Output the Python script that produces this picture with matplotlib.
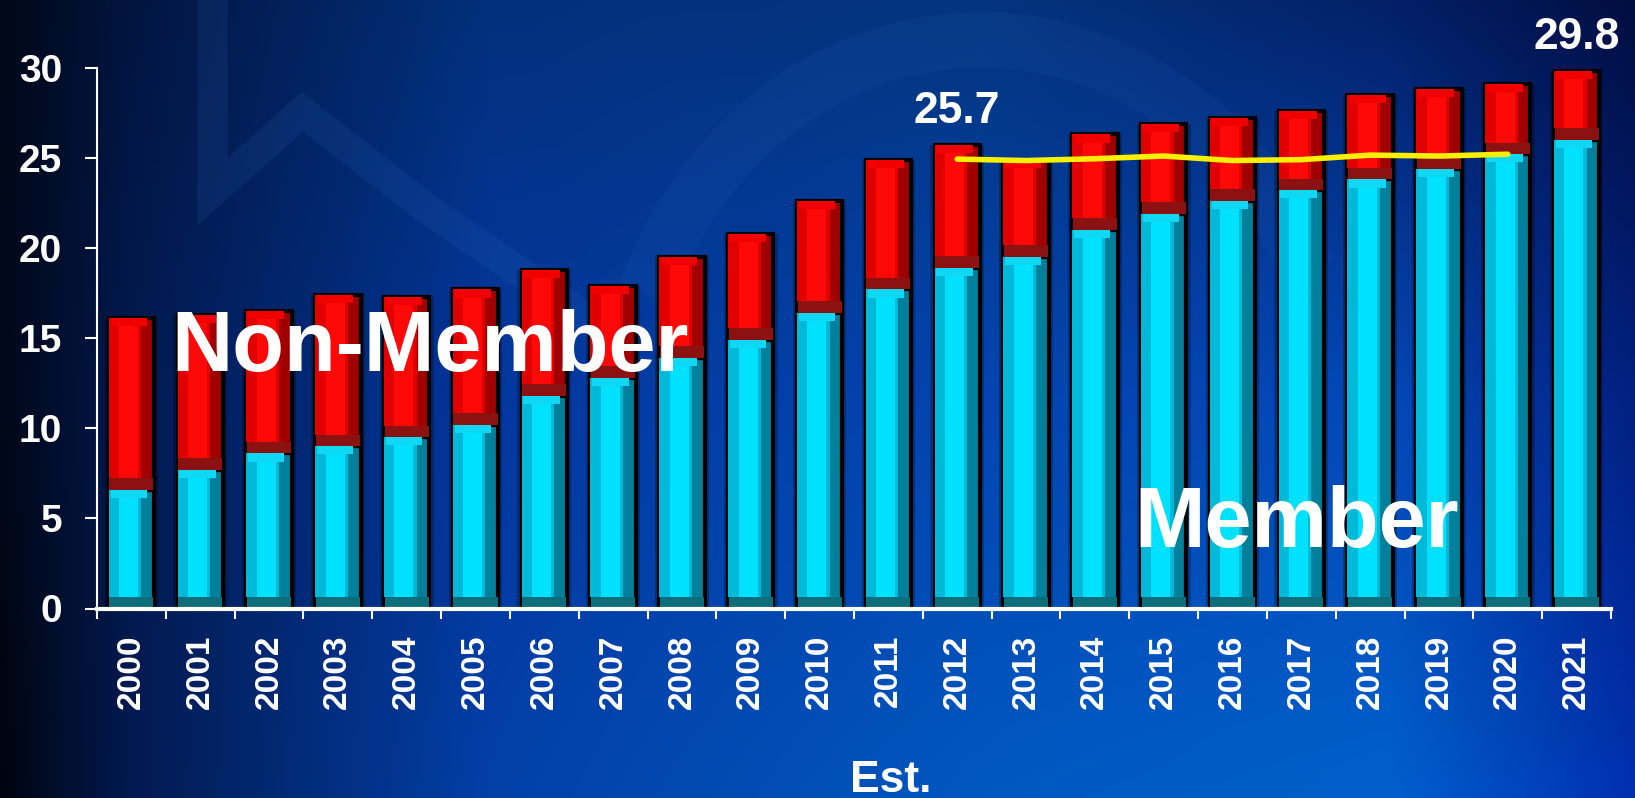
import numpy as np
import matplotlib.pyplot as plt
from matplotlib.colors import to_rgb

# data
years = ['2000', '2001', '2002', '2003', '2004', '2005', '2006', '2007', '2008', '2009', '2010',
         '2011', '2012', '2013', '2014', '2015', '2016', '2017', '2018', '2019', '2020', '2021']
member = [6.6, 7.7, 8.6, 9.0, 9.5, 10.2, 11.8, 12.8, 13.9, 14.9, 16.4,
          17.7, 18.9, 19.5, 21.0, 21.9, 22.6, 23.2, 23.8, 24.4, 25.2, 26.0]
total = [16.1, 16.3, 16.5, 17.4, 17.3, 17.7, 18.8, 17.9, 19.5, 20.8, 22.6,
         24.9, 25.7, 24.9, 26.3, 26.9, 27.2, 27.6, 28.5, 28.8, 29.1, 29.8]
non_member = [t - m for t, m in zip(total, member)]

# yellow trend line 2012-2020
line_years = ['2012', '2013', '2014', '2015', '2016', '2017', '2018', '2019', '2020']
line_vals = [24.93, 24.85, 24.95, 25.1, 24.85, 24.9, 25.15, 25.1, 25.2]

labels = {'2012': '25.7', '2021': '29.8'}

W, H = 1635, 798
fig = plt.figure(figsize=(W / 100, H / 100), dpi=100)

# background: blue gradient, dark on the left, brighter towards bottom right
cx = [0.0, 0.08, 0.3, 0.6, 0.85, 1.0]
rows = [
    ['#000818', '#021540', '#03307c', '#04357e', '#032068', '#010e40'],  # top
    ['#000818', '#021a50', '#0338a0', '#0445b0', '#0448b8', '#022080'],  # middle
    ['#000410', '#021a50', '#0340a8', '#0058c0', '#0060cc', '#0030b0'],  # bottom
]
cy = [0.0, 0.5, 1.0]
nx, ny = 400, 200
gx = np.linspace(0, 1, nx)
gy = np.linspace(0, 1, ny)
row_img = np.array([[np.interp(gx, cx, [to_rgb(c)[k] for c in r]) for k in range(3)] for r in rows])
img = np.zeros((ny, nx, 3))
for k in range(3):
    for i in range(nx):
        img[:, i, k] = np.interp(gy, cy, row_img[:, k, i])
bg = fig.add_axes([0, 0, 1, 1], zorder=0)
bg.imshow(img, extent=[0, 1, 0, 1], aspect='auto', origin='upper')
# faint swirl shapes
bg.plot([0.13, 0.13, 0.185, 0.26, 0.36], [1.0, 0.76, 0.86, 0.74, 0.6], color='#3a78d0', alpha=0.12,
        linewidth=22, solid_joinstyle='miter')
t = np.linspace(0.5, 2.7, 100)
bg.plot(0.6 + 0.22 * np.cos(t), 0.45 + 0.5 * np.sin(t), color='#3a78d0', alpha=0.08, linewidth=40)
bg.set_xlim(0, 1)
bg.set_ylim(0, 1)
bg.axis('off')

ax = fig.add_axes([97 / W, 1 - 608.5 / H, (1611 - 97) / W, (608.5 - 67.7) / H], zorder=1)
ax.patch.set_alpha(0)

x = np.arange(len(years))
bw = 0.66


def bevel_bar(xs, heights, bottoms, c_side, c_left, c_face, c_bottom, c_top):
    xs = np.asarray(xs, float)
    heights = np.asarray(heights, float)
    bottoms = np.asarray(bottoms, float)
    ax.bar(xs, heights, bottom=bottoms, width=bw + 0.12, color='black', alpha=0.25, linewidth=0, zorder=1.5)
    ax.bar(xs, heights, bottom=bottoms, width=bw, color=c_side, edgecolor='black', linewidth=3, zorder=2)
    bev = 0.65
    ax.bar(xs - bw * 0.14, heights - bev, bottom=bottoms + bev, width=bw * 0.72, color=c_left, linewidth=0, zorder=3)
    ax.bar(xs - bw * 0.06, heights - bev - 0.45, bottom=bottoms + bev, width=bw * 0.42, color=c_face, linewidth=0, zorder=3)
    ax.bar(xs - bw * 0.06, 0.45, bottom=bottoms + heights - 0.45, width=bw * 0.8, color=c_top, linewidth=0, zorder=3)
    ax.bar(xs, bev, bottom=bottoms, width=bw * 0.97, color=c_bottom, linewidth=0, zorder=3)


bevel_bar(x, member, [0] * len(x), '#00809a', '#00b8d8', '#00e0ff', '#0b6e7a', '#10d8f4')
bevel_bar(x, non_member, member, '#a00000', '#e00000', '#ff0808', '#8c1212', '#f20000')

lx = [years.index(y) for y in line_years]
ax.plot(lx, line_vals, color='#f8f000', linewidth=4, solid_capstyle='round', zorder=5)

for yr, txt in labels.items():
    i = years.index(yr)
    ax.text(i, total[i] + 1.25, txt, ha='center', va='baseline', color='white',
            fontsize=32, fontweight='bold', family='Liberation Sans', clip_on=False, zorder=6)

ax.text(4.34, 13.2, 'Non-Member', ha='center', va='baseline', color='white',
        fontsize=61, fontweight='bold', family='Liberation Sans', zorder=6)
ax.text(16.93, 3.4, 'Member', ha='center', va='baseline', color='white',
        fontsize=61, fontweight='bold', family='Liberation Sans', zorder=6)

ax.set_xlim(-0.5, len(years) - 0.5)
ax.set_ylim(0, 30)
ax.set_yticks([0, 5, 10, 15, 20, 25, 30])
ax.set_xticks(x)
ax.set_xticklabels(years, rotation=90, fontsize=24, fontweight='bold', family='Liberation Sans', color='white')
ax.set_xticks(np.arange(-0.5, len(years)), minor=True)
ax.tick_params(axis='x', which='major', length=0, pad=19)
ax.tick_params(axis='x', which='minor', length=7.5, width=1.5, color='white', direction='out')
ax.tick_params(axis='y', length=9, width=1.5, color='white', pad=16)
for lab in ax.get_yticklabels():
    lab.set_fontsize(28)
    lab.set_fontweight('bold')
    lab.set_family('Liberation Sans')
    lab.set_color('white')

for s in ['top', 'right']:
    ax.spines[s].set_visible(False)
ax.spines['left'].set_color('white')
ax.spines['left'].set_linewidth(1.5)
ax.spines['bottom'].set_color('white')
ax.spines['bottom'].set_linewidth(3)
ax.spines['bottom'].set_zorder(7)

fig.text(891 / W, 1 - 792 / H, 'Est.', ha='center', va='baseline', color='white',
         fontsize=32, fontweight='bold', family='Liberation Sans')

fig.savefig('out.png', dpi=100)
